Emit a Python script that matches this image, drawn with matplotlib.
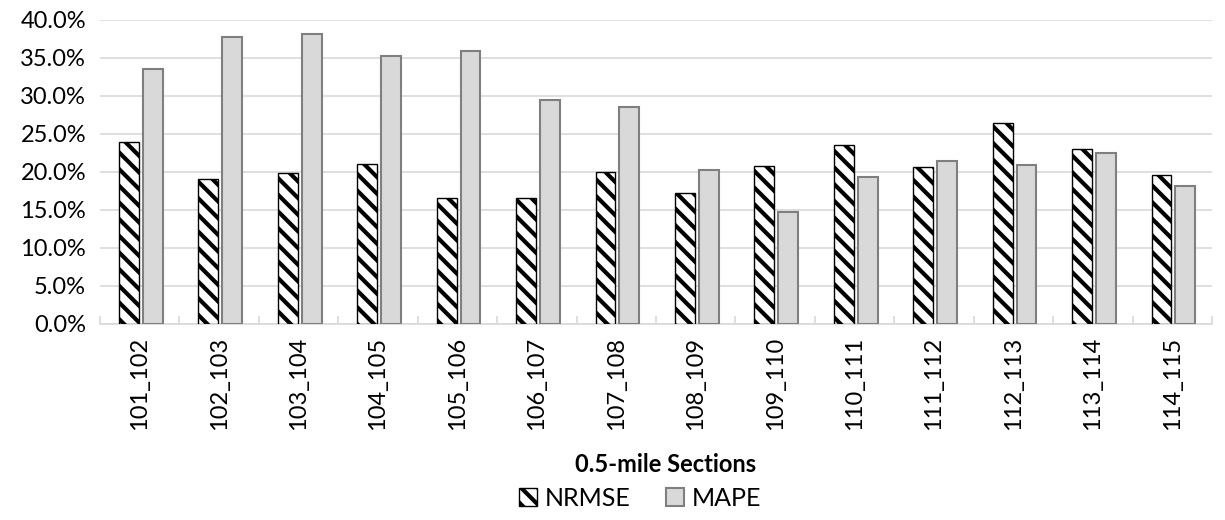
import numpy as np
import matplotlib
matplotlib.use('Agg')
import matplotlib.pyplot as plt
from matplotlib.patches import Patch
from matplotlib.ticker import PercentFormatter, FixedLocator

# section ids and error metrics (percent)
sections = ['101_102', '102_103', '103_104', '104_105', '105_106', '106_107', '107_108',
            '108_109', '109_110', '110_111', '111_112', '112_113', '113_114', '114_115']
nrmse = [23.9, 19.1, 19.9, 21.1, 16.6, 16.6, 20.0, 17.3, 20.8, 23.5, 20.6, 26.4, 23.0, 19.6]
mape = [33.5, 37.7, 38.2, 35.2, 35.9, 29.5, 28.6, 20.3, 14.7, 19.3, 21.4, 20.9, 22.5, 18.2]

plt.rcParams['font.family'] = ['Lato', 'DejaVu Sans']
plt.rcParams['hatch.linewidth'] = 3.0

fig = plt.figure(figsize=(12.25, 5.2), dpi=100)
ax = fig.add_axes([100 / 1225, 1 - 324 / 520, 1112 / 1225, 304 / 520])

x = np.arange(len(sections))
w = 0.25
ax.bar(x - 0.135, nrmse, w, facecolor='white', edgecolor='black', hatch='\\\\',
       linewidth=1.0, zorder=3, label='NRMSE')
ax.bar(x + 0.165, mape, w, facecolor='#d9d9d9', edgecolor='#7f7f7f',
       linewidth=1.5, zorder=3, label='MAPE')

ax.set_xlim(-0.5, len(sections) - 0.5)
ax.set_ylim(0, 40)
ax.set_yticks(np.arange(0, 40.1, 5))
ax.yaxis.set_major_formatter(PercentFormatter(decimals=1))
ax.grid(axis='y', color='#d9d9d9', linewidth=1.2, zorder=0)

ax.set_xticks(x)
ax.set_xticklabels(sections, rotation=90, fontsize=17)
ax.xaxis.set_minor_locator(FixedLocator(np.arange(-0.5, len(sections), 1)))
ax.tick_params(axis='x', which='major', length=0, pad=9)
ax.tick_params(axis='x', which='minor', direction='in', length=6, color='#d9d9d9', width=1.2)
ax.tick_params(axis='y', length=0, labelsize=17, pad=10)

for side in ['top', 'right', 'left']:
    ax.spines[side].set_visible(False)
ax.spines['bottom'].set_color('#d9d9d9')
ax.spines['bottom'].set_linewidth(1.2)

fig.text(666 / 1225, 1 - 465 / 520, '0.5-mile Sections', ha='center', va='center',
         fontsize=17, fontweight='bold')

handles = [Patch(facecolor='white', edgecolor='black', hatch='\\\\', label='NRMSE'),
           Patch(facecolor='#d9d9d9', edgecolor='#7f7f7f', linewidth=1.5, label='MAPE')]
fig.legend(handles=handles, loc='center', bbox_to_anchor=(640 / 1225, 1 - 498 / 520),
           ncol=2, frameon=False, fontsize=18, handlelength=0.75, handleheight=0.75,
           handletextpad=0.3, columnspacing=1.4)

fig.savefig('out.png', dpi=100)
